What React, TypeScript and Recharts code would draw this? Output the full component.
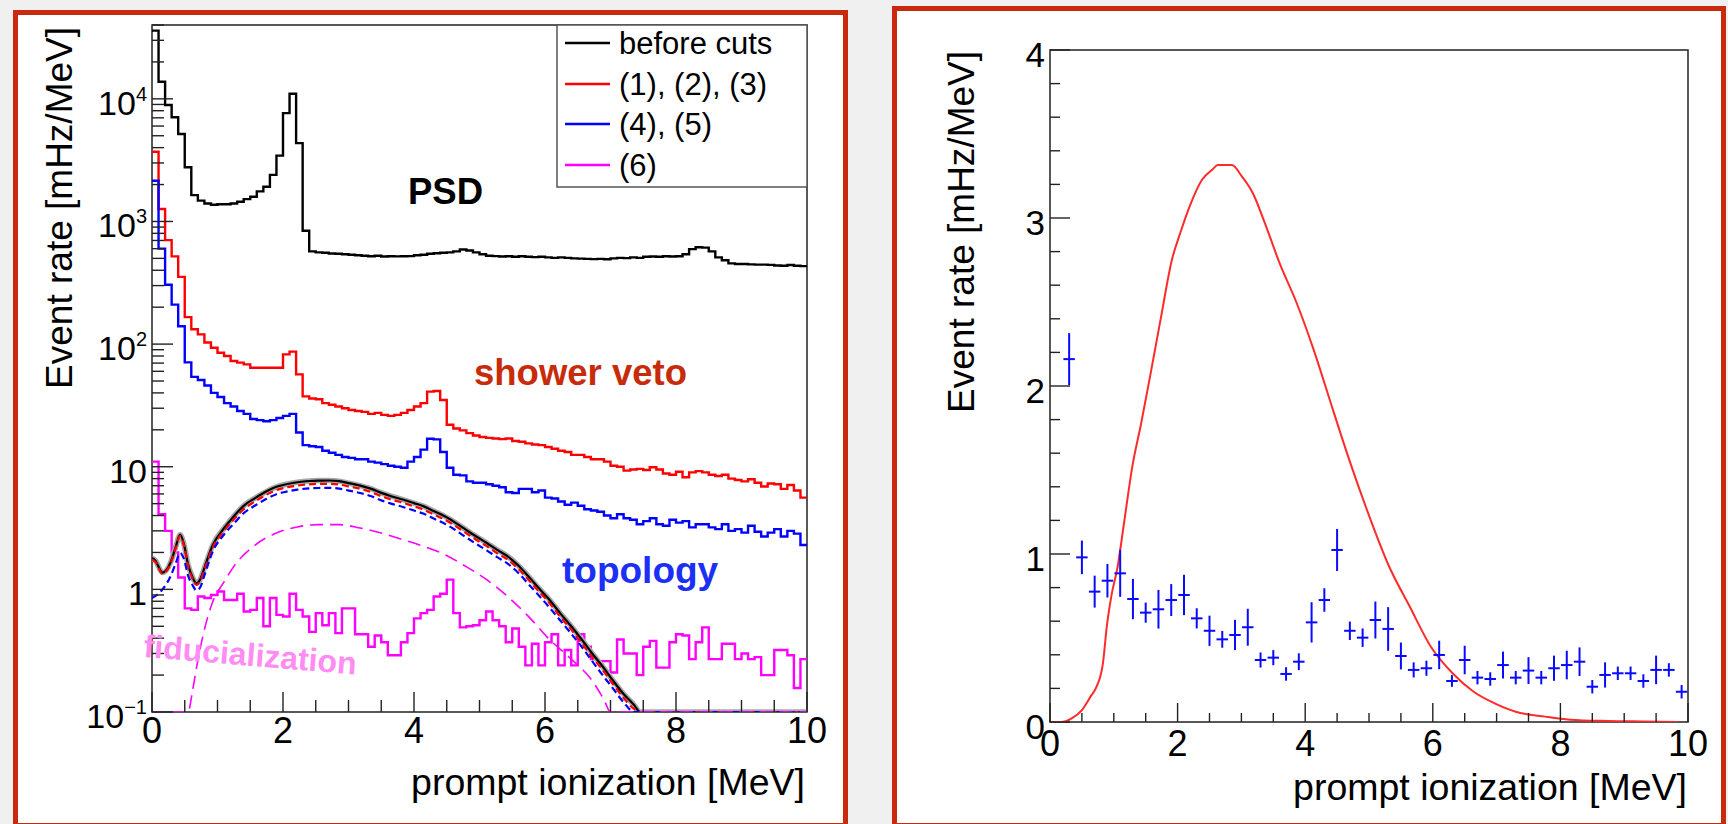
import React from 'react';
import { ComposedChart, Line, Scatter, XAxis, YAxis, ErrorBar, ReferenceArea } from 'recharts';

const FONT = '"Liberation Sans", Arial, Helvetica, sans-serif';

// ---------------- left panel data (log scale) ----------------
const binEdges = [
  0, 0.1, 0.2, 0.3, 0.4, 0.5, 0.6, 0.7, 0.8, 0.9, 1, 1.1, 1.2, 1.3, 1.4, 1.5, 1.6, 1.7, 1.8, 1.9,
  2, 2.1, 2.2, 2.3, 2.4, 2.5, 2.6, 2.7, 2.8, 2.9, 3, 3.1, 3.2, 3.3, 3.4, 3.5, 3.6, 3.7, 3.8, 3.9,
  4, 4.1, 4.2, 4.3, 4.4, 4.5, 4.6, 4.7, 4.8, 4.9, 5, 5.1, 5.2, 5.3, 5.4, 5.5, 5.6, 5.7, 5.8, 5.9,
  6, 6.1, 6.2, 6.3, 6.4, 6.5, 6.6, 6.7, 6.8, 6.9, 7, 7.1, 7.2, 7.3, 7.4, 7.5, 7.6, 7.7, 7.8, 7.9,
  8, 8.1, 8.2, 8.3, 8.4, 8.5, 8.6, 8.7, 8.8, 8.9, 9, 9.1, 9.2, 9.3, 9.4, 9.5, 9.6, 9.7, 9.8, 9.9, 10,
];

const beforeCuts = [
  36000, 13800, 8900, 7070, 5170, 2770, 1640, 1480, 1400, 1370,
  1380, 1380, 1400, 1450, 1520, 1590, 1760, 1920, 2400, 3440,
  7640, 11000, 4350, 840, 570, 560, 555, 548, 545, 540,
  535, 530, 525, 520, 525, 518, 520, 519, 520, 522,
  530, 535, 545, 550, 555, 560, 570, 590, 580, 560,
  540, 525, 522, 518, 520, 516, 520, 515, 512, 515,
  510, 505, 510, 505, 500, 498, 495, 493, 495, 492,
  500, 505, 502, 510, 505, 515, 518, 515, 520, 518,
  520, 540, 595, 617, 612, 570, 510, 483, 455, 450,
  450, 447, 445, 445, 443, 438, 436, 442, 436, 432,
];

const cuts123 = [
  3700, 1262, 705, 519, 353, 166, 132, 120, 103, 93.5,
  85, 80, 72.8, 70.6, 68.4, 64.2, 64.2, 64.2, 64.2, 64.2,
  82.5, 86.8, 56.6, 37.5, 36, 35.5, 33, 32, 31, 30,
  29, 28.5, 28, 27, 27.5, 26.5, 26, 26.5, 27.5, 29,
  31, 33, 41, 41.5, 35, 22, 20.5, 19.8, 18.8, 18,
  17.5, 17.2, 17, 16.8, 17, 16.2, 16, 15.5, 15.2, 15,
  14.5, 14, 13.5, 13.2, 12.5, 12.5, 12, 11.5, 11.5, 11,
  10.2, 10, 9.3, 9.5, 9.6, 9.4, 9.9, 9.5, 8.8, 8.6,
  9.1, 8.2, 9, 9.2, 9, 8.6, 8.4, 8.6, 8, 7.8,
  7.6, 7.9, 7.4, 6.9, 7.3, 7.2, 6.6, 7.1, 6.4, 5.6,
];

const cuts45 = [
  2150, 600, 305, 210, 140, 71, 54, 51, 46, 40,
  37, 33, 31, 28.5, 27, 24.5, 24, 23.5, 24, 25,
  26, 27, 19, 15, 14.7, 14.5, 13.5, 13, 12.5, 12,
  11.8, 11.5, 11.5, 11, 10.8, 10.5, 10.2, 10, 9.8, 11,
  12, 13.8, 16.9, 16.7, 13.2, 9.8, 8.6, 8.5, 7.6, 7.4,
  7.4, 7.2, 7, 6.8, 6.2, 6.1, 6.6, 6.6, 6.2, 6.4,
  5.6, 5.5, 5.2, 4.9, 5.1, 4.8, 4.5, 4.4, 4.3, 4.0,
  3.8, 4.1, 3.8, 3.7, 3.4, 3.6, 3.8, 3.4, 3.3, 3.7,
  3.5, 3.6, 3.2, 3.4, 3.4, 3.2, 3.1, 3.4, 3.0, 3.1,
  2.9, 3.3, 2.95, 2.7, 2.9, 3.1, 2.7, 3.0, 2.85, 2.3,
];

const cut6 = [
  11, 4.1, 3.0, 2.0, 1.25, 0.7, 0.68, 0.875, 0.85, 0.9,
  0.96, 0.82, 0.82, 0.92, 0.66, 0.68, 0.85, 0.5, 0.85, 0.62,
  0.6, 0.92, 0.68, 0.6, 0.45, 0.64, 0.51, 0.64, 0.44, 0.7,
  0.7, 0.43, 0.43, 0.34, 0.42, 0.37, 0.29, 0.29, 0.37, 0.44,
  0.58, 0.64, 0.68, 0.875, 0.92, 1.2, 0.64, 0.49, 0.5, 0.51,
  0.56, 0.66, 0.56, 0.5, 0.37, 0.48, 0.34, 0.24, 0.36, 0.24,
  0.37, 0.43, 0.24, 0.32, 0.24, 0.43, 0.34, 0.27, 0.26, 0.26,
  0.21, 0.39, 0.3, 0.3, 0.2, 0.34, 0.38, 0.23, 0.23, 0.37,
  0.43, 0.42, 0.27, 0.37, 0.49, 0.27, 0.27, 0.36, 0.36, 0.27,
  0.3, 0.27, 0.28, 0.2, 0.2, 0.32, 0.32, 0.29, 0.157, 0.27,
];

const curveX = [
  0, 0.05, 0.16, 0.29, 0.36, 0.43, 0.49, 0.55, 0.62, 0.68, 0.74, 0.8, 0.93, 1.1, 1.25, 1.4, 1.58, 1.75,
  1.9, 2.05, 2.22, 2.4, 2.54, 2.7, 2.86, 3.0, 3.18, 3.35, 3.5, 3.65, 3.83, 4.0, 4.15, 4.3, 4.47, 4.63,
  4.79, 4.95, 5.11, 5.27, 5.43, 5.6, 5.75, 5.9, 6.07, 6.23, 6.4, 6.56, 6.72, 6.88, 7.04, 7.2, 7.36,
  7.45, 7.6, 8, 9, 10,
];
const curveBefore = [
  1.8, 1.72, 1.37, 1.69, 2.2, 2.79, 2.3, 1.6, 1.25, 1.12, 1.22, 1.5, 2.31, 3.15, 3.95, 4.8, 5.57, 6.3,
  6.86, 7.2, 7.47, 7.65, 7.71, 7.72, 7.62, 7.35, 7.02, 6.6, 6.12, 5.75, 5.4, 5.05, 4.75, 4.35, 3.94, 3.5,
  3.07, 2.7, 2.39, 2.1, 1.86, 1.55, 1.27, 1.03, 0.82, 0.64, 0.5, 0.39, 0.3, 0.235, 0.18, 0.14, 0.114,
  0.1, 0.1, 0.1, 0.1, 0.1,
];
const curve123 = [
  1.75, 1.68, 1.34, 1.65, 2.15, 2.72, 2.25, 1.56, 1.22, 1.09, 1.18, 1.45, 2.22, 3.0, 3.72, 4.5, 5.24, 5.92,
  6.45, 6.77, 7.02, 7.19, 7.25, 7.26, 7.16, 6.91, 6.6, 6.2, 5.75, 5.4, 5.08, 4.75, 4.46, 4.09, 3.7, 3.29,
  2.89, 2.54, 2.25, 1.97, 1.75, 1.46, 1.19, 0.97, 0.77, 0.6, 0.47, 0.365, 0.28, 0.22, 0.168, 0.13, 0.106,
  0.1, 0.1, 0.1, 0.1, 0.1,
];
const curve45 = [
  0.85, 0.88, 1.0, 1.3, 1.62, 1.98, 1.75, 1.3, 1.08, 0.98, 1.05, 1.3, 2.05, 2.8, 3.44, 4.18, 4.85, 5.48,
  5.97, 6.26, 6.5, 6.66, 6.71, 6.72, 6.63, 6.39, 6.11, 5.74, 5.32, 5.0, 4.7, 4.39, 4.13, 3.78, 3.43, 3.05,
  2.67, 2.35, 2.08, 1.83, 1.62, 1.35, 1.1, 0.9, 0.71, 0.56, 0.435, 0.34, 0.26, 0.2, 0.155, 0.12, 0.1,
  0.1, 0.1, 0.1, 0.1, 0.1,
];
const curve6X = [
  0, 0.3, 0.55, 0.62, 0.68, 0.8, 0.93, 1.1, 1.25, 1.58, 1.9, 2.22, 2.54, 2.86, 3.18, 3.5, 3.83, 4.15,
  4.47, 4.79, 5.11, 5.43, 5.75, 6.07, 6.4, 6.72, 6.9, 7.0, 8, 9, 10,
];
const curve6 = [
  0.1, 0.1, 0.1, 0.15, 0.23, 0.47, 0.8, 1.15, 1.54, 2.31, 2.88, 3.23, 3.37, 3.37, 3.16, 2.88, 2.54, 2.24,
  1.92, 1.54, 1.2, 0.875, 0.6, 0.39, 0.27, 0.18, 0.126, 0.1, 0.1, 0.1, 0.1,
];

const leftYTicks = [
  0.1, 0.2, 0.3, 0.4, 0.5, 0.6, 0.7, 0.8, 0.9, 1, 2, 3, 4, 5, 6, 7, 8, 9, 10, 20, 30, 40, 50, 60, 70, 80, 90,
  100, 200, 300, 400, 500, 600, 700, 800, 900, 1000, 2000, 3000, 4000, 5000, 6000, 7000, 8000, 9000,
  10000, 20000, 30000, 40000,
];
const leftYLabels: Record<string, [string, string]> = {
  '0.1': ['10', '\u22121'],
  '1': ['1', ''],
  '10': ['10', ''],
  '100': ['10', '2'],
  '1000': ['10', '3'],
  '10000': ['10', '4'],
};
const xTicks = [0, 0.5, 1, 1.5, 2, 2.5, 3, 3.5, 4, 4.5, 5, 5.5, 6, 6.5, 7, 7.5, 8, 8.5, 9, 9.5, 10];

const legendLabels = ['before cuts', '(1), (2), (3)', '(4), (5)', '(6)'];
const legendColors = ['#000000', '#ff0000', '#0000ff', '#ff00ff'];

// ---------------- right panel data (linear) ----------------
const pointX = [
  0.3, 0.5, 0.7, 0.9, 1.1, 1.3, 1.5, 1.7, 1.9, 2.1, 2.3, 2.5, 2.7, 2.9, 3.1, 3.3, 3.5, 3.7, 3.9, 4.1,
  4.3, 4.5, 4.7, 4.9, 5.1, 5.3, 5.5, 5.7, 5.9, 6.1, 6.3, 6.5, 6.7, 6.9, 7.1, 7.3, 7.5, 7.7, 7.9, 8.1,
  8.3, 8.5, 8.7, 8.9, 9.1, 9.3, 9.5, 9.7, 9.9,
];
const pointY = [
  2.16, 0.98, 0.776, 0.841, 0.885, 0.732, 0.651, 0.671, 0.726, 0.756, 0.617, 0.543, 0.492, 0.518, 0.564,
  0.369, 0.383, 0.286, 0.359, 0.593, 0.726, 1.024, 0.543, 0.502, 0.607, 0.554, 0.393, 0.31, 0.32, 0.399,
  0.244, 0.369, 0.264, 0.256, 0.339, 0.264, 0.306, 0.264, 0.32, 0.339, 0.359, 0.21, 0.28, 0.29, 0.29,
  0.244, 0.31, 0.31, 0.18,
];
const pointErr = [
  0.155, 0.1, 0.095, 0.1, 0.14, 0.12, 0.06, 0.115, 0.095, 0.12, 0.06, 0.09, 0.05, 0.09, 0.11, 0.045,
  0.045, 0.04, 0.05, 0.12, 0.07, 0.125, 0.055, 0.055, 0.11, 0.13, 0.08, 0.045, 0.045, 0.085, 0.035,
  0.085, 0.04, 0.04, 0.08, 0.04, 0.08, 0.04, 0.075, 0.085, 0.085, 0.04, 0.075, 0.04, 0.04, 0.04, 0.085,
  0.04, 0.04,
];
const binHalfWidth = 0.09;

const signalX = [
  0, 0.17, 0.34, 0.5, 0.635, 0.73, 0.83, 0.89, 0.96, 1.06, 1.16, 1.29, 1.43, 1.57, 1.74, 1.91, 2.04, 2.2,
  2.38, 2.55, 2.63, 2.85, 3.01, 3.18, 3.35, 3.6, 3.86, 4.12, 4.45, 4.7, 4.98, 5.31, 5.64, 5.97,
  6.31, 6.64, 6.97, 7.3, 7.76, 8.15, 8.75, 9.3, 9.84,
];
const signalY = [
  0, 0, 0.022, 0.071, 0.151, 0.21, 0.35, 0.567, 0.746, 0.924, 1.183, 1.52, 1.78, 2.06, 2.41, 2.75, 2.909,
  3.08, 3.226, 3.29, 3.315, 3.315, 3.246, 3.147, 2.988, 2.73, 2.5, 2.23, 1.84, 1.55, 1.25,
  0.93, 0.686, 0.448, 0.29, 0.18, 0.111, 0.061, 0.032, 0.014, 0.006, 0.003, 0,
];
const rightYTicks = [0, 0.2, 0.4, 0.6, 0.8, 1, 1.2, 1.4, 1.6, 1.8, 2, 2.2, 2.4, 2.6, 2.8, 3, 3.2, 3.4, 3.6, 3.8, 4];

// ---------------- helpers ----------------
const histRows = (vals: number[]) =>
  binEdges.map((x, i) => ({ x, y: vals[Math.min(i, vals.length - 1)] }));
const curveRows = (xs: number[], ys: number[]) => xs.map((x, i) => ({ x, y: ys[i] }));
const pointRows = pointX.map((x, i) => ({ x, y: pointY[i], ey: pointErr[i], ex: binHalfWidth }));

// plot geometry in each chart's own coordinates
const LP = { x0: 152, y1: 712 };
const RP = { x0: 170, y1: 722 };
const AX = '#222';

function LeftYTick(props: any) {
  const { y, payload } = props;
  const lab = leftYLabels[String(payload.value)];
  return (
    <g>
      <line x1={LP.x0} x2={LP.x0 + (lab ? 21 : 12)} y1={y} y2={y} stroke={AX} strokeWidth={1.4} />
      {lab && (
        <text x={LP.x0 - 5} y={y + 16} textAnchor="end" fontSize={34} fontFamily={FONT} fill="#000">
          {lab[0]}
          {lab[1] ? (
            <tspan dy={-14} fontSize={20}>
              {lab[1]}
            </tspan>
          ) : null}
        </text>
      )}
    </g>
  );
}

function LeftXTick(props: any) {
  const { x, payload } = props;
  const v = payload.value;
  const major = v % 2 === 0;
  return (
    <g>
      <line x1={x} x2={x} y1={LP.y1} y2={LP.y1 - (major ? 20 : 12)} stroke={AX} strokeWidth={1.4} />
      {major && (
        <text x={x} y={LP.y1 + 31} textAnchor="middle" fontSize={36} fontFamily={FONT} fill="#000">
          {v}
        </text>
      )}
    </g>
  );
}

function RightYTick(props: any) {
  const { y, payload } = props;
  const v = payload.value;
  const major = v % 1 === 0;
  return (
    <g>
      <line x1={RP.x0} x2={RP.x0 + (major ? 20 : 10)} y1={y} y2={y} stroke={AX} strokeWidth={1.4} />
      {major && (
        <text x={RP.x0 - 5} y={y + 17} textAnchor="end" fontSize={35} fontFamily={FONT} fill="#000">
          {v}
        </text>
      )}
    </g>
  );
}

function RightXTick(props: any) {
  const { x, payload } = props;
  const v = payload.value;
  const major = v % 2 === 0;
  return (
    <g>
      <line x1={x} x2={x} y1={RP.y1} y2={RP.y1 - (major ? 19 : 9)} stroke={AX} strokeWidth={1.4} />
      {major && (
        <text x={x} y={RP.y1 + 34} textAnchor="middle" fontSize={36} fontFamily={FONT} fill="#000">
          {v}
        </text>
      )}
    </g>
  );
}

const noDot = { dot: false as const, activeDot: false as const, isAnimationActive: false };

export default function App() {
  const legendY = [43, 84, 124, 165];
  return (
    <div
      style={{
        position: 'absolute',
        left: 0,
        top: 0,
        width: 1728,
        height: 824,
        background: '#f1f0f0',
        overflow: 'hidden',
        fontFamily: FONT,
      }}
    >
      {/* panel frames */}
      <div
        style={{
          position: 'absolute',
          left: 13,
          top: 10,
          width: 835,
          height: 818,
          border: '5px solid #c92a0e',
          background: '#ffffff',
          boxSizing: 'border-box',
        }}
      />
      <div
        style={{
          position: 'absolute',
          left: 892,
          top: 6,
          width: 834,
          height: 822,
          border: '5px solid #c92a0e',
          background: '#ffffff',
          boxSizing: 'border-box',
        }}
      />

      {/* left chart */}
      <div style={{ position: 'absolute', left: 0, top: 0 }}>
        <ComposedChart width={860} height={824} margin={{ top: 25, right: 53, left: 112, bottom: 82 }}>
          <XAxis
            dataKey="x"
            type="number"
            domain={[0, 10]}
            ticks={xTicks}
            interval={0}
            allowDataOverflow
            axisLine={false}
            tickLine={false}
            height={30}
            tick={(p: any) => <LeftXTick {...p} />}
          />
          <YAxis
            type="number"
            scale="log"
            domain={[0.1, 40000]}
            ticks={leftYTicks}
            interval={0}
            allowDataOverflow
            axisLine={false}
            tickLine={false}
            width={40}
            tick={(p: any) => <LeftYTick {...p} />}
          />
          <Line data={histRows(beforeCuts)} dataKey="y" type="stepAfter" stroke="#000000" strokeWidth={2.4} {...noDot} />
          <Line data={histRows(cuts123)} dataKey="y" type="stepAfter" stroke="#ff0000" strokeWidth={2.4} {...noDot} />
          <Line data={histRows(cuts45)} dataKey="y" type="stepAfter" stroke="#0000ff" strokeWidth={2.4} {...noDot} />
          <Line data={histRows(cut6)} dataKey="y" type="stepAfter" stroke="#ff00ff" strokeWidth={2.4} {...noDot} />
          <Line data={curveRows(curveX, curveBefore)} dataKey="y" type="monotone" stroke="#a8a8a8" strokeWidth={5.5} {...noDot} />
          <Line data={curveRows(curveX, curveBefore)} dataKey="y" type="monotone" stroke="#000000" strokeWidth={2.2} {...noDot} />
          <Line data={curveRows(curveX, curve123)} dataKey="y" type="monotone" stroke="#ff0000" strokeWidth={2.2} strokeDasharray="7 4" {...noDot} />
          <Line data={curveRows(curveX, curve45)} dataKey="y" type="monotone" stroke="#0000ff" strokeWidth={2.2} strokeDasharray="7 4" {...noDot} />
          <Line data={curveRows(curve6X, curve6)} dataKey="y" type="monotone" stroke="#ff00ff" strokeWidth={1.6} strokeDasharray="13 7" {...noDot} />
          <ReferenceArea x1={0} x2={10} y1={0.1} y2={40000} fill="none" stroke={AX} strokeWidth={1.5} ifOverflow="visible" />
        </ComposedChart>
      </div>

      {/* right chart */}
      <div style={{ position: 'absolute', left: 880, top: 0 }}>
        <ComposedChart width={848} height={824} margin={{ top: 50, right: 40, left: 130, bottom: 72 }}>
          <XAxis
            dataKey="x"
            type="number"
            domain={[0, 10]}
            ticks={xTicks}
            interval={0}
            allowDataOverflow
            axisLine={false}
            tickLine={false}
            height={30}
            tick={(p: any) => <RightXTick {...p} />}
          />
          <YAxis
            type="number"
            domain={[0, 4]}
            ticks={rightYTicks}
            interval={0}
            allowDataOverflow
            axisLine={false}
            tickLine={false}
            width={40}
            tick={(p: any) => <RightYTick {...p} />}
          />
          <Line data={curveRows(signalX, signalY)} dataKey="y" type="monotone" stroke="#ff2b2b" strokeWidth={2} {...noDot} />
          <Scatter data={pointRows} dataKey="y" isAnimationActive={false} shape={() => <g />}>
            <ErrorBar dataKey="ey" direction="y" width={0} stroke="#0a0aff" strokeWidth={2} isAnimationActive={false} />
            <ErrorBar dataKey="ex" direction="x" width={0} stroke="#0a0aff" strokeWidth={2} isAnimationActive={false} />
          </Scatter>
          <ReferenceArea x1={0} x2={10} y1={0} y2={4} fill="none" stroke={AX} strokeWidth={1.5} ifOverflow="visible" />
        </ComposedChart>
      </div>

      {/* titles, annotations, legend */}
      <svg width={1728} height={824} style={{ position: 'absolute', left: 0, top: 0, pointerEvents: 'none' }}>
        <text transform="translate(72,27) rotate(-90)" textAnchor="end" fontSize={37} fontFamily={FONT} fill="#000">
          Event rate [mHz/MeV]
        </text>
        <text x={805} y={795} textAnchor="end" fontSize={37.5} fontFamily={FONT} fill="#000">
          prompt ionization [MeV]
        </text>
        <text transform="translate(974,51) rotate(-90)" textAnchor="end" fontSize={37} fontFamily={FONT} fill="#000">
          Event rate [mHz/MeV]
        </text>
        <text x={1687} y={800} textAnchor="end" fontSize={37.5} fontFamily={FONT} fill="#000">
          prompt ionization [MeV]
        </text>

        <text x={408} y={204} fontSize={36.5} fontWeight="bold" fontFamily={FONT} fill="#000">
          PSD
        </text>
        <text x={474} y={385} fontSize={36.5} fontWeight="bold" fontFamily={FONT} fill="#c82b0a">
          shower veto
        </text>
        <text x={562} y={583} fontSize={37} fontWeight="bold" fontFamily={FONT} fill="#1b2ff5">
          topology
        </text>
        <text
          transform="translate(143,657) rotate(4.7)"
          fontSize={32}
          fontWeight="bold"
          fontFamily={FONT}
          fill="#ff8cf2"
        >
          fiducialization
        </text>

        <rect x={557} y={25} width={250} height={162} fill="#ffffff" stroke="#555" strokeWidth={1.5} />
        {legendLabels.map((lab, i) => (
          <g key={lab}>
            <line x1={565} x2={610} y1={legendY[i]} y2={legendY[i]} stroke={legendColors[i]} strokeWidth={2.4} />
            <text x={619} y={legendY[i] + 11} fontSize={31} fontFamily={FONT} fill="#000">
              {lab}
            </text>
          </g>
        ))}
      </svg>
    </div>
  );
}
